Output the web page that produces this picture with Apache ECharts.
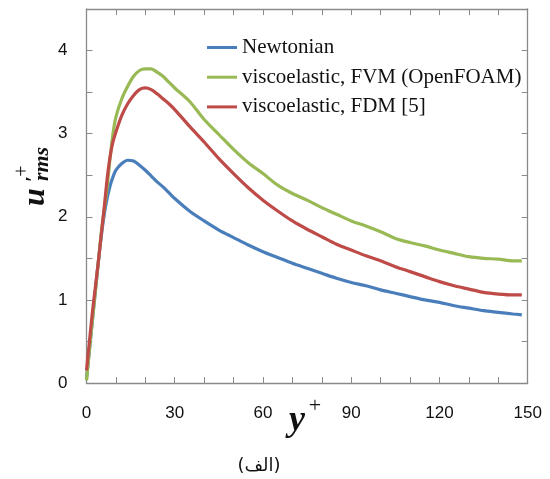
<!DOCTYPE html>
<html><head><meta charset="utf-8">
<script src="https://cdn.jsdelivr.net/npm/echarts@6/dist/echarts.min.js"></script>
<style>html,body{margin:0;padding:0;background:#fff}#c{width:550px;height:479px}</style>
</head><body><div id="c"></div>
<script>
const seriesNames = ['Newtonian', 'viscoelastic, FVM (OpenFOAM)', 'viscoelastic, FDM [5]'];
const yPlus = [0,1,2,3,4,5,6,7,8,9,10,12,14,16,18,20,22,24,26,28,30,35,40,45,50,55,60,65,70,75,80,85,90,95,100,105,110,115,120,125,130,135,140,145,148];
const newtonian = [0.05,0.4,0.75,1.1,1.45,1.76,2.02,2.22,2.37,2.48,2.56,2.64,2.68,2.67,2.62,2.56,2.49,2.42,2.36,2.29,2.22,2.07,1.95,1.84,1.75,1.66,1.58,1.51,1.44,1.38,1.32,1.26,1.21,1.17,1.12,1.08,1.04,1.00,0.97,0.93,0.90,0.87,0.85,0.83,0.82];
const fvm = [0.03,0.4,0.75,1.1,1.45,1.8,2.08,2.35,2.7,3.0,3.2,3.42,3.57,3.69,3.76,3.78,3.78,3.74,3.69,3.62,3.55,3.39,3.17,2.99,2.81,2.65,2.52,2.38,2.28,2.20,2.11,2.03,1.95,1.89,1.82,1.74,1.69,1.65,1.60,1.56,1.52,1.50,1.49,1.47,1.47];
const fdm = [0.15,0.5,0.85,1.15,1.45,1.78,2.1,2.45,2.72,2.9,3.02,3.22,3.36,3.46,3.53,3.55,3.53,3.48,3.42,3.36,3.29,3.09,2.90,2.70,2.52,2.35,2.20,2.07,1.95,1.85,1.76,1.67,1.60,1.53,1.47,1.40,1.34,1.28,1.22,1.17,1.13,1.09,1.07,1.06,1.06];
const xTickLabels = [0,30,60,90,120,150];
const yTickLabels = [0,1,2,3,4];
const colors = ['#4a7ebb', '#98b954', '#be4b48'];

const chart = echarts.init(document.getElementById('c'), null, {renderer:'canvas'});
const pairs = arr => yPlus.map((x,i)=>[x, arr[i]]);
const axCol = '#8a8a8a';
const tickFont = {fontFamily:'Liberation Sans, Arial, sans-serif', fontSize:17, color:'#111'};
function baseAxis(extra){
  return Object.assign({
    axisLine:{show:true, onZero:false, lineStyle:{color:axCol, width:1.3}},
    axisTick:{show:true, inside:true, length:6, lineStyle:{color:axCol, width:1}},
    splitLine:{show:false}
  }, extra);
}
const mkSeries = (i, arr) => ({name:seriesNames[i], type:'line', data:pairs(arr), smooth:0.3, showSymbol:false, symbol:'none', lineStyle:{color:colors[i], width:3.2}, itemStyle:{color:colors[i]}});
const option = {
  animation:false,
  grid:{left:86.5, right:22.3, top:9, bottom:96, containLabel:false},
  legend:{
    orient:'vertical', left:202, top:32, itemWidth:30, itemHeight:3, itemGap:8.7,
    icon:'rect',
    textStyle:{fontFamily:'Liberation Serif, Times New Roman, serif', fontSize:21, color:'#111', lineHeight:20, padding:[0,0,0,0]},
    data:seriesNames
  },
  xAxis:[
    baseAxis({type:'value', min:0, max:150, interval:10, position:'bottom',
      axisLabel:Object.assign({margin:22, formatter:v=> xTickLabels.includes(v) ? String(v) : ''}, tickFont)}),
    baseAxis({type:'value', min:0, max:150, interval:10, position:'top', axisLabel:{show:false}})
  ],
  yAxis:[
    baseAxis({type:'value', min:0, max:4.5, interval:0.5, position:'left',
      axisLabel:Object.assign({margin:19, formatter:v=> yTickLabels.includes(v) ? String(v) : ''}, tickFont)}),
    baseAxis({type:'value', min:0, max:4.5, interval:0.5, position:'right', axisLabel:{show:false}})
  ],
  series:[ mkSeries(0, newtonian), mkSeries(1, fvm), mkSeries(2, fdm) ],
  graphic:[
    {type:'text', x:36, y:197, rotation:Math.PI/2, style:{text:'u', font:'italic bold 32px "Liberation Serif", serif', fill:'#111', align:'center', verticalAlign:'middle'}},
    {type:'text', x:34, y:179, rotation:Math.PI/2, style:{text:'\u2032', font:'bold 22px "Liberation Serif", serif', fill:'#111', align:'center', verticalAlign:'middle'}},
    {type:'text', x:42, y:164, rotation:Math.PI/2, style:{text:'rms', font:'italic bold 22px "Liberation Serif", serif', fill:'#111', align:'center', verticalAlign:'middle'}},
    {type:'text', x:23, y:171, rotation:Math.PI/2, style:{text:'+', font:'20px "Liberation Serif", serif', fill:'#111', align:'center', verticalAlign:'middle'}},
    {type:'text', x:297, y:421, style:{text:'y', font:'italic bold 36px "Liberation Serif", serif', fill:'#111', align:'center', verticalAlign:'middle'}},
    {type:'text', x:315, y:406, style:{text:'+', font:'22px "Liberation Serif", serif', fill:'#111', align:'center', verticalAlign:'middle'}},
    {type:'text', x:259, y:466, style:{text:'(الف)', font:'18px "DejaVu Sans", sans-serif', fill:'#111', align:'center', verticalAlign:'middle'}}
  ]
};
chart.setOption(option);
</script></body></html>
